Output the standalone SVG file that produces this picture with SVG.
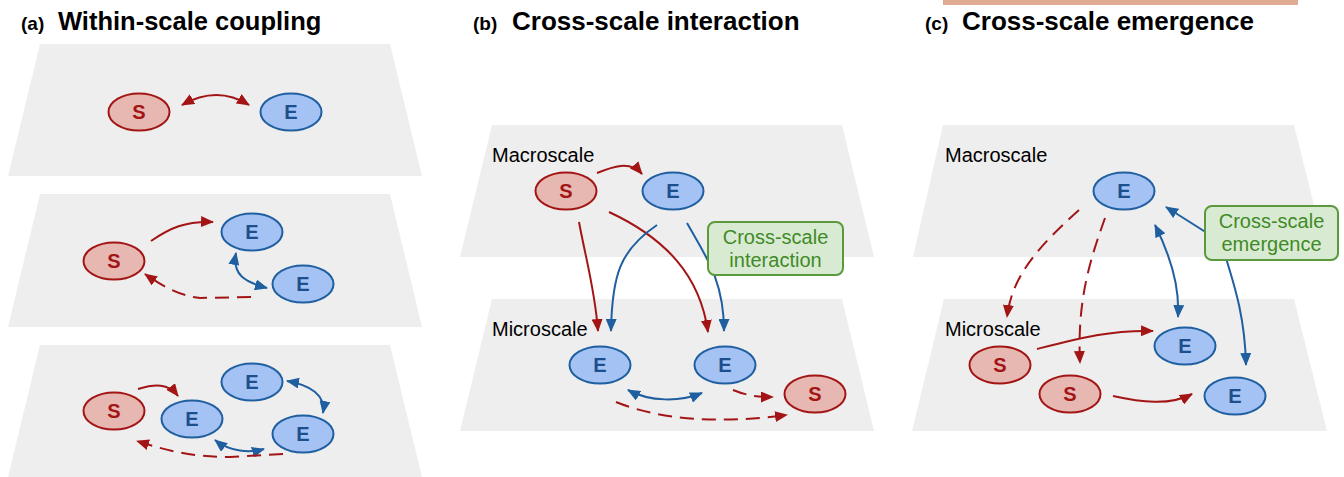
<svg xmlns="http://www.w3.org/2000/svg" width="1344" height="477" viewBox="0 0 1344 477">
<style>
.plane{fill:#eeeeee}
.s ellipse{fill:#e6b8b1;stroke:#a31515;stroke-width:2}
.e ellipse{fill:#a4c2f4;stroke:#1f5fa0;stroke-width:2}
.s text,.e text{font-family:"Liberation Sans",Arial,sans-serif;font-weight:bold;font-size:20px;text-anchor:middle}
.s text{fill:#a31515}
.e text{fill:#1c4f8c}
.r{fill:none;stroke:#a31515;stroke-width:2;marker-end:url(#ar)}
.b{fill:none;stroke:#1f5fa0;stroke-width:2;marker-end:url(#ab)}
.rb{marker-start:url(#ar)}
.bb{marker-start:url(#ab)}
.d{stroke-dasharray:14 8}
.t{font-family:"Liberation Sans",Arial,sans-serif;font-weight:bold;fill:#000}
.lab{font-family:"Liberation Sans",Arial,sans-serif;font-size:20px;fill:#000}
.box rect{fill:#d9ead3;stroke:#5b9a3c;stroke-width:2}
.box text{font-family:"Liberation Sans",Arial,sans-serif;font-size:20px;fill:#3f8a26;text-anchor:middle}
</style>
<defs>
<marker id="ar" markerUnits="userSpaceOnUse" markerWidth="13" markerHeight="11" refX="12" refY="5.5" orient="auto-start-reverse" viewBox="0 0 13 11"><path d="M0,0 L13,5.5 L0,11 z" fill="#a31515"/></marker>
<marker id="ab" markerUnits="userSpaceOnUse" markerWidth="13" markerHeight="11" refX="12" refY="5.5" orient="auto-start-reverse" viewBox="0 0 13 11"><path d="M0,0 L13,5.5 L0,11 z" fill="#1f5fa0"/></marker>
</defs>
<rect x="943" y="0" width="355" height="5" fill="#dfab92"/>
<g id="titles">
<text class="t" x="21" y="30" font-size="19">(a)</text>
<text class="t" x="58" y="30" font-size="25.5">Within-scale coupling</text>
<text class="t" x="473" y="30" font-size="19">(b)</text>
<text class="t" x="512" y="30" font-size="26">Cross-scale interaction</text>
<text class="t" x="925" y="30" font-size="19">(c)</text>
<text class="t" x="962" y="30" font-size="26">Cross-scale emergence</text>
</g>
<g id="planes">
<polygon class="plane" points="40,44 390,44 422,176 8,176"/>
<polygon class="plane" points="40,194 390,194 422,327 8,327"/>
<polygon class="plane" points="40,345 390,345 422,477 8,477"/>
<polygon class="plane" points="492,125 842,125 874,257 460,257"/>
<polygon class="plane" points="492,299 842,299 874,431 460,431"/>
<polygon class="plane" points="943,125 1294,125 1327,257 913,257"/>
<polygon class="plane" points="944,299 1294,299 1327,431 912,431"/>
</g>
<g id="scale-labels">
<text class="lab" x="492" y="162">Macroscale</text>
<text class="lab" x="492" y="336">Microscale</text>
<text class="lab" x="945" y="162">Macroscale</text>
<text class="lab" x="945" y="336">Microscale</text>
</g>
<g id="connectors">
<path class="r rb" d="M182,105 C205,92 228,92 249,105"/>
<path class="r" d="M151,241 C170,228 185,221 213,222"/>
<path class="b bb" d="M236,253 C232,275 245,282 267,288"/>
<path class="r d" d="M251,297 L200,298 C180,296 162,286 145,274"/>
<path class="r" d="M138,389 C155,384 168,383 178,396"/>
<path class="b bb" d="M287,381 C310,385 326,395 323,413"/>
<path class="b bb" d="M215,440 C230,452 250,453 264,449"/>
<path class="r d" d="M283,454 L230,457 C190,457 165,450 137,441"/>
<path class="r" d="M597,173 C612,167 630,160 642,174"/>
<path class="r" d="M579,222 C586,260 595,290 598,331"/>
<path class="r" d="M609,212 C665,238 700,275 708,332"/>
<path class="b" d="M657,225 C620,250 612,275 611,331"/>
<path class="b" d="M687,223 C705,255 724,280 724,331"/>
<path class="b bb" d="M628,390 C650,402 680,402 702,393"/>
<path class="r d" d="M733,390 C748,396 758,397 773,397"/>
<path class="r d" d="M616,402 C660,420 720,424 787,415"/>
<path class="r d" d="M1079,210 C1040,245 1012,275 1007,317"/>
<path class="r d" d="M1105,218 C1090,260 1077,300 1080,363"/>
<path class="b bb" d="M1155,225 C1170,255 1180,285 1178,317"/>
<path class="b" d="M1215,238 L1166,207"/>
<path class="b" d="M1225,255 C1236,290 1245,320 1246,365"/>
<path class="r" d="M1037,349 C1080,338 1110,330 1153,331"/>
<path class="r" d="M1113,396 C1140,402 1170,406 1192,394"/>
</g>
<g id="a1-S" class="s"><ellipse cx="139" cy="112" rx="30.5" ry="18.5"/><text x="139" y="119">S</text></g>
<g id="a1-E" class="e"><ellipse cx="291" cy="112" rx="30.5" ry="18.5"/><text x="291" y="119">E</text></g>
<g id="a2-S" class="s"><ellipse cx="114" cy="261" rx="30.5" ry="18.5"/><text x="114" y="268">S</text></g>
<g id="a2-E1" class="e"><ellipse cx="252" cy="232" rx="30.5" ry="18.5"/><text x="252" y="239">E</text></g>
<g id="a2-E2" class="e"><ellipse cx="303" cy="284" rx="30.5" ry="18.5"/><text x="303" y="291">E</text></g>
<g id="a3-S" class="s"><ellipse cx="114" cy="411" rx="30.5" ry="18.5"/><text x="114" y="418">S</text></g>
<g id="a3-E1" class="e"><ellipse cx="192" cy="419" rx="30.5" ry="18.5"/><text x="192" y="426">E</text></g>
<g id="a3-E2" class="e"><ellipse cx="252" cy="382" rx="30.5" ry="18.5"/><text x="252" y="389">E</text></g>
<g id="a3-E3" class="e"><ellipse cx="303" cy="434" rx="30.5" ry="18.5"/><text x="303" y="441">E</text></g>
<g id="b-macro-S" class="s"><ellipse cx="566" cy="191" rx="30.5" ry="18.5"/><text x="566" y="198">S</text></g>
<g id="b-macro-E" class="e"><ellipse cx="673" cy="191" rx="30.5" ry="18.5"/><text x="673" y="198">E</text></g>
<g id="b-micro-E1" class="e"><ellipse cx="600" cy="365" rx="30.5" ry="18.5"/><text x="600" y="372">E</text></g>
<g id="b-micro-E2" class="e"><ellipse cx="725" cy="365" rx="30.5" ry="18.5"/><text x="725" y="372">E</text></g>
<g id="b-micro-S" class="s"><ellipse cx="815" cy="394" rx="30.5" ry="18.5"/><text x="815" y="401">S</text></g>
<g id="c-macro-E" class="e"><ellipse cx="1124" cy="191" rx="30.5" ry="18.5"/><text x="1124" y="198">E</text></g>
<g id="c-micro-S1" class="s"><ellipse cx="1000" cy="365" rx="30.5" ry="18.5"/><text x="1000" y="372">S</text></g>
<g id="c-micro-S2" class="s"><ellipse cx="1070" cy="394" rx="30.5" ry="18.5"/><text x="1070" y="401">S</text></g>
<g id="c-micro-E1" class="e"><ellipse cx="1185" cy="346" rx="30.5" ry="18.5"/><text x="1185" y="353">E</text></g>
<g id="c-micro-E2" class="e"><ellipse cx="1235" cy="396" rx="30.5" ry="18.5"/><text x="1235" y="403">E</text></g>
<g id="box-interaction" class="box"><rect x="708" y="222" width="135" height="53" rx="7"/><text x="775.5" y="244">Cross-scale</text><text x="775.5" y="267">interaction</text></g>
<g id="box-emergence" class="box"><rect x="1205" y="206" width="133" height="54" rx="7"/><text x="1271.5" y="228">Cross-scale</text><text x="1271.5" y="251">emergence</text></g>
</svg>
